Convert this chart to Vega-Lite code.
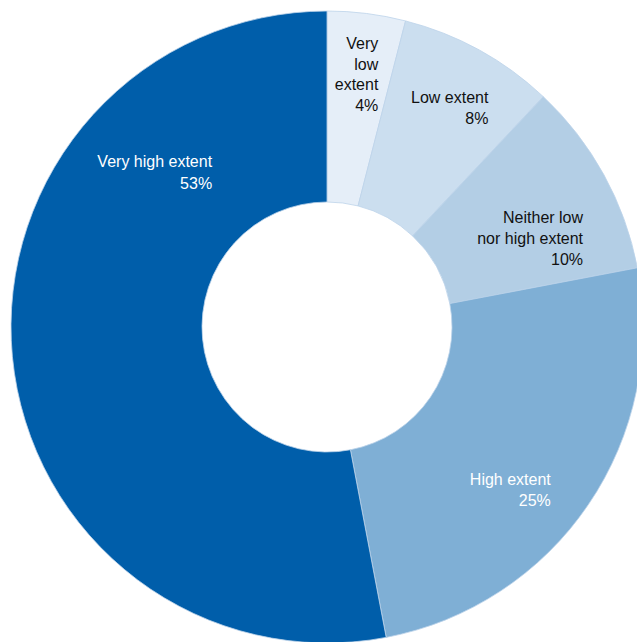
{
  "$schema": "https://vega.github.io/schema/vega-lite/v6.json",
  "autosize": "none",
  "width": 620,
  "height": 630,
  "padding": {"left": 17, "top": 12, "right": 0, "bottom": 0},
  "background": "white",
  "config": {"view": {"stroke": null}},
  "data": {
    "values": [
      {"category": "Very low extent", "value": 4, "rank": 1, "label": "Very\nlow\nextent\n4%"},
      {"category": "Low extent", "value": 8, "rank": 2, "label": "Low extent\n8%"},
      {"category": "Neither low nor high extent", "value": 10, "rank": 3, "label": "Neither low\nnor high extent\n10%"},
      {"category": "High extent", "value": 25, "rank": 4, "label": "High extent\n25%"},
      {"category": "Very high extent", "value": 53, "rank": 5, "label": "Very high extent\n53%"}
    ]
  },
  "encoding": {
    "theta": {"field": "value", "type": "quantitative", "stack": true},
    "order": {"field": "rank", "type": "quantitative"}
  },
  "layer": [
    {
      "mark": {"type": "arc", "radius": 316, "radius2": 125, "stroke": "#bcd3ea", "strokeWidth": 0.8},
      "encoding": {
        "color": {
          "field": "category",
          "type": "nominal",
          "scale": {
            "domain": ["Very low extent", "Low extent", "Neither low nor high extent", "High extent", "Very high extent"],
            "range": ["#e5eef8", "#cbdeef", "#b3cee5", "#7fafd5", "#005eaa"]
          },
          "legend": null
        }
      }
    },
    {
      "mark": {"type": "text", "radius": 250, "dx": 20, "dy": -35, "align": "right", "baseline": "middle", "font": "Liberation Sans", "fontSize": 16, "lineHeight": 20.7, "lineBreak": "\n", "fill": "#111111"},
      "encoding": {"text": {"condition": {"test": "datum.category === 'Very low extent'", "field": "label"}, "value": ""}}
    },
    {
      "mark": {"type": "text", "radius": 250, "dx": 41, "dy": -10, "align": "right", "baseline": "middle", "font": "Liberation Sans", "fontSize": 16, "lineHeight": 21, "lineBreak": "\n", "fill": "#111111"},
      "encoding": {"text": {"condition": {"test": "datum.category === 'Low extent'", "field": "label"}, "value": ""}}
    },
    {
      "mark": {"type": "text", "radius": 250, "dx": 37, "dy": 11, "align": "right", "baseline": "middle", "font": "Liberation Sans", "fontSize": 16, "lineHeight": 21, "lineBreak": "\n", "fill": "#111111"},
      "encoding": {"text": {"condition": {"test": "datum.category === 'Neither low nor high extent'", "field": "label"}, "value": ""}}
    },
    {
      "mark": {"type": "text", "radius": 250, "dx": 17, "dy": 12, "align": "right", "baseline": "middle", "font": "Liberation Sans", "fontSize": 16, "lineHeight": 21, "lineBreak": "\n", "fill": "#ffffff"},
      "encoding": {"text": {"condition": {"test": "datum.category === 'High extent'", "field": "label"}, "value": ""}}
    },
    {
      "mark": {"type": "text", "radius": 250, "dx": 134, "dy": -189, "align": "right", "baseline": "middle", "font": "Liberation Sans", "fontSize": 16, "lineHeight": 22, "lineBreak": "\n", "fill": "#ffffff"},
      "encoding": {"text": {"condition": {"test": "datum.category === 'Very high extent'", "field": "label"}, "value": ""}}
    }
  ]
}
